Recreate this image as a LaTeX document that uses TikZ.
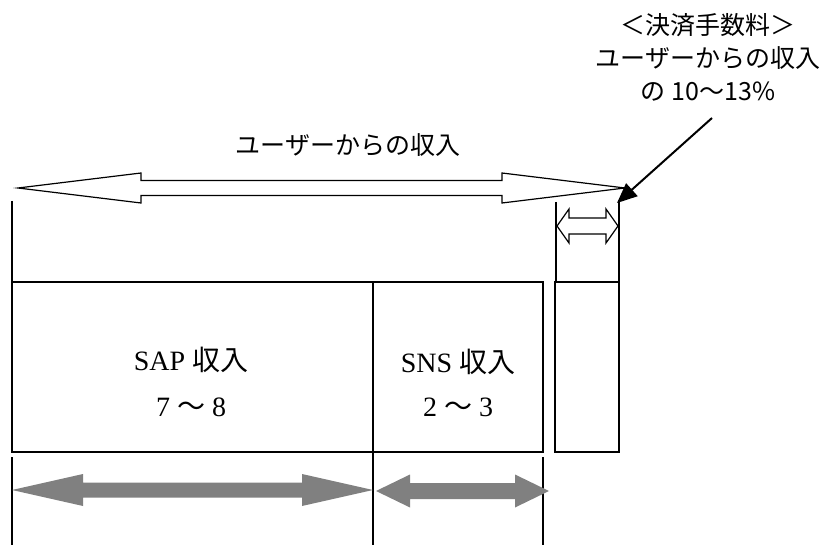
\documentclass[tikz,border=0pt]{standalone}
\usepackage{fontspec}
\usetikzlibrary{arrows.meta}
\newfontfamily\jp{Noto Sans CJK JP}
\newfontfamily\latinserif{Liberation Serif}

% double-headed block arrow: style, x-left, x-right, y, head length, head half-height, shaft half-height
\newcommand\dblblock[7]{%
  \draw[#1] (#2,#4) -- (#2+#5,#4-#6) -- (#2+#5,#4-#7) -- (#3-#5,#4-#7)
    -- (#3-#5,#4-#6) -- (#3,#4) -- (#3-#5,#4+#6) -- (#3-#5,#4+#7)
    -- (#2+#5,#4+#7) -- (#2+#5,#4+#6) -- cycle;}

\tikzset{
  frame/.style={line width=1.3pt, draw=black},
  outlinearrow/.style={line width=1.2pt, draw=black, fill=white, line join=miter},
  grayarrow/.style={fill=black!50, draw=none},
  pointer/.style={line width=2pt, -{Triangle[length=20pt,width=17pt]}},
  sanslabel/.style={font=\jp\fontsize{25pt}{33pt}\selectfont, align=center, inner sep=0pt},
  seriflabel/.style={font=\latinserif\fontsize{28pt}{32pt}\selectfont, inner sep=0pt},
}

\begin{document}
\begin{tikzpicture}[x=1pt, y=-1pt]
  \useasboundingbox (0,0) rectangle (825,545);

  % revenue boxes
  \draw[frame] (12,282) rectangle (543,452);
  \draw[frame] (373,282) -- (373,452);
  \draw[frame] (555,282) rectangle (619,452);

  % extension lines above the boxes
  \draw[frame] (12,201) -- (12,282);
  \draw[frame] (556,202) -- (556,282);
  \draw[frame] (619,200) -- (619,282);

  % extension lines below the boxes
  \draw[frame] (12,457) -- (12,545);
  \draw[frame] (373,452) -- (373,545);
  \draw[frame] (543,457) -- (543,545);

  % overall user revenue span
  \dblblock{outlinearrow}{18}{625}{188}{123}{15}{7.5}
  % fee span
  \dblblock{outlinearrow}{557}{618}{226}{12}{17}{8}
  % SAP and SNS spans
  \dblblock{grayarrow}{12}{373}{490}{71}{16}{7.5}
  \dblblock{grayarrow}{376}{549}{491}{34}{16.5}{8}

  % labels
  \node[sanslabel] (total) at (348,145) {ユーザーからの収入};
  \node[sanslabel] (fee) at (708,57) {＜決済手数料＞\\ユーザーからの収入\\の 10〜13\%};

  \node[seriflabel] (sap) at (191,360) {SAP {\jp 収入}};
  \node[seriflabel] (sapratio) at (191,407) {7 {\jp ～} 8};
  \node[seriflabel] (sns) at (458,362) {SNS {\jp 収入}};
  \node[seriflabel] (snsratio) at (458,407) {2 {\jp ～} 3};

  % callout pointer to the fee span
  \coordinate (feetail) at (712,118);
  \coordinate (feetip) at (617,203);
  \draw[pointer] (feetail) -- (feetip);
\end{tikzpicture}
\end{document}
